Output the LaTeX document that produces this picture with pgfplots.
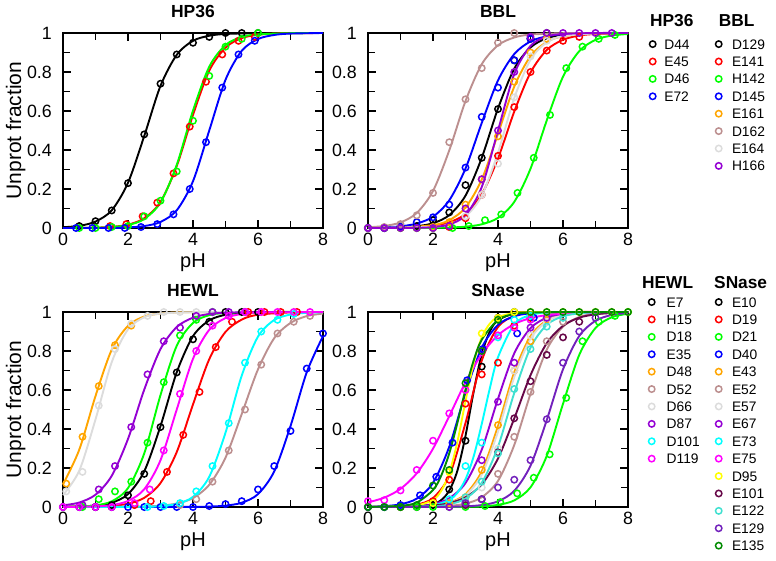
\documentclass[border=0pt]{standalone}
\usepackage{fontspec}
\setmainfont{Liberation Sans}
\usepackage{pgfplots}
\pgfplotsset{compat=1.18}
\definecolor{gBrown}{RGB}{188,143,143}
\definecolor{gGrey}{RGB}{220,220,220}
\definecolor{gViolet}{RGB}{148,0,211}
\definecolor{gOrange}{RGB}{255,165,0}
\definecolor{gIndigo}{RGB}{114,33,188}
\definecolor{gMaroon}{RGB}{103,7,72}
\definecolor{gTurq}{RGB}{64,224,208}
\definecolor{gGreenF}{RGB}{0,139,0}
\definecolor{gGreen}{RGB}{0,255,0}
\definecolor{gBlue}{RGB}{0,0,255}
\definecolor{gRed}{RGB}{255,0,0}
\definecolor{gCyan}{RGB}{0,255,255}
\definecolor{gMagenta}{RGB}{255,0,255}
\definecolor{gYellow}{RGB}{255,255,0}
\tikzset{ltitle/.style={anchor=base west, inner sep=0pt, font=\bfseries\fontsize{17.3bp}{20bp}\selectfont}}
\pgfplotsset{
  panel/.style={
    scale only axis, width=260bp, height=195bp,
    xmin=0, xmax=8, ymin=0, ymax=1,
    xtick={0,2,4,6,8}, minor xtick={1,3,5,7},
    ytick={0,0.2,0.4,0.6,0.8,1}, minor ytick={0.1,0.3,0.5,0.7,0.9},
    tick align=inside, major tick length=8bp, minor tick length=7bp,
    tick style={line width=1.5bp, black},
    axis line style={line width=2bp},
    clip=false,
    /pgf/number format/assume math mode=true,
    tick label style={font=\fontsize{17.8bp}{20bp}\selectfont},
    xticklabel style={anchor=base, yshift=-17.5bp},
    yticklabel style={anchor=east, inner sep=0pt, xshift=-11bp},
    xlabel={pH},
    xlabel style={at={(axis description cs:0.5,-0.205)}, anchor=base, font=\fontsize{20bp}{22bp}\selectfont},
    ylabel style={at={(axis description cs:-0.1615,0.5)}, anchor=base, font=\fontsize{21bp}{23bp}\selectfont},
    title style={at={(axis description cs:0.5,1.0513)}, anchor=base, yshift=0pt, font=\bfseries\fontsize{17.5bp}{20bp}\selectfont},
    legend cell align=left,
    legend style={draw=none, fill=none, inner sep=0pt, outer sep=0pt, anchor=north west, row sep=0pt, column sep=0pt,
      font=\fontsize{13.8bp}{17bp}\selectfont,
      nodes={inner sep=0pt, text height=13.65bp, text depth=3.75bp}},
  },
  limg/.style={legend image code/.code={\path[draw=none,fill=none] (0bp,0bp) -- (#1,0bp);\draw[##1] plot coordinates {(3.6bp,0bp)};}},
  fit/.style={smooth, line width=1.9bp, color=#1, forget plot},
  pts/.style={only marks, mark=o, mark size=3.2bp, mark options={line width=1.5bp, solid}, color=#1},
}
\begin{document}
\begin{tikzpicture}
\useasboundingbox (0bp,-561bp) rectangle (776bp,0bp);
%% ---------------- HP36 ----------------
\begin{axis}[panel, at={(63bp,-228bp)}, anchor=south west, title={HP36}, ylabel={Unprot fraction},
  limg=15.2bp, legend style={at={(axis description cs:2.2542,0.9877)}}]
\addplot[fit=black] coordinates {(0,0.004)(0.5,0.011)(1,0.033)(1.5,0.091)(2,0.232)(2.5,0.472)(3,0.729)(3.5,0.888)(4,0.960)(4.5,0.986)(5,0.995)(6,0.9995)(7,1)(8,1)};
\addplot[pts=black] coordinates {(0.5,0.01)(1,0.035)(1.5,0.09)(2,0.23)(2.5,0.48)(3,0.74)(3.5,0.89)(4,0.95)(4.5,0.98)(5,1)(5.5,1)(6,1)};
\addlegendentry{D44}
\addplot[fit=gRed] coordinates {(0,0)(1,0.002)(1.5,0.006)(2,0.017)(2.5,0.050)(3,0.134)(3.5,0.318)(4,0.580)(4.5,0.807)(5,0.925)(5.5,0.974)(6,0.991)(6.5,0.997)(7,0.999)(8,1)};
\addplot[pts=gRed] coordinates {(1.45,0.01)(1.95,0.02)(2.45,0.06)(2.9,0.13)(3.4,0.28)(3.9,0.52)(4.4,0.75)(4.9,0.89)(5.4,0.96)(5.9,0.98)};
\addlegendentry{E45}
\addplot[fit=gGreen] coordinates {(0,0)(1,0.0015)(1.5,0.005)(2,0.015)(2.5,0.046)(3,0.131)(3.5,0.324)(4,0.602)(4.5,0.827)(5,0.938)(5.5,0.980)(6,0.993)(7,0.999)(8,1)};
\addplot[pts=gGreen] coordinates {(0.5,0)(1,0)(1.5,0.005)(2,0.01)(2.5,0.06)(3,0.14)(3.5,0.29)(4,0.55)(4.5,0.78)(5,0.93)(5.5,0.97)(6,1)};
\addlegendentry{D46}
\addplot[fit=gBlue] coordinates {(0,0)(1.5,0.0003)(2,0.003)(2.5,0.0099)(3,0.031)(3.5,0.091)(4,0.240)(4.5,0.5)(5,0.760)(5.5,0.909)(6,0.969)(6.5,0.990)(7,0.997)(8,1)};
\addplot[pts=gBlue] coordinates {(0.4,0)(0.9,0)(1.4,0)(1.9,0)(2.4,0.005)(2.9,0.02)(3.4,0.07)(3.9,0.2)(4.4,0.44)(4.9,0.72)(5.4,0.89)(5.9,0.96)};
\addlegendentry{E72}
\node[ltitle] at (axis description cs:2.2577,1.0359) {HP36};
\end{axis}
%% ---------------- BBL ----------------
\begin{axis}[panel, at={(368bp,-228bp)}, anchor=south west, title={BBL},
  limg=16.9bp, legend style={at={(axis description cs:1.335,0.9877)}}]
\addplot[fit=black] coordinates {(0,0.0004)(1,0.003)(1.5,0.009)(2,0.0245)(2.5,0.066)(3,0.166)(3.5,0.360)(4,0.613)(4.5,0.817)(5,0.926)(5.5,0.973)(6,0.990)(7,0.999)(8,1)};
\addplot[pts=black] coordinates {(0,0)(0.5,0)(1,0.005)(1.5,0.01)(2,0.04)(2.5,0.08)(3,0.22)(3.5,0.36)(4,0.61)(4.5,0.86)(5,0.97)(5.5,1)};
\addlegendentry{D129}
\addplot[fit=gRed] coordinates {(0,0)(1,0.0016)(2,0.011)(2.5,0.029)(3,0.072)(3.5,0.173)(4,0.357)(4.5,0.597)(5,0.797)(5.5,0.913)(6,0.965)(6.5,0.987)(7,0.995)(8,0.999)};
\addplot[pts=gRed] coordinates {(0,0)(0.5,0)(1,0)(1.5,0)(2,0)(2.5,0.005)(3,0.05)(3.5,0.17)(4,0.37)(4.5,0.62)(5,0.80)(5.5,0.91)(6,0.96)(6.5,0.98)};
\addlegendentry{E141}
\addplot[fit=gGreen] coordinates {(0,0)(2,0.0009)(2.5,0.0025)(3,0.007)(3.5,0.019)(4,0.052)(4.5,0.134)(5,0.304)(5.5,0.552)(6,0.776)(6.5,0.907)(7,0.965)(7.5,0.987)(8,0.995)};
\addplot[pts=gGreen] coordinates {(0,0)(0.5,0)(1,0)(1.5,0)(2,0)(2.6,0)(3.1,0.01)(3.6,0.04)(4.1,0.07)(4.6,0.18)(5.1,0.36)(5.6,0.58)(6.1,0.82)(6.6,0.93)(7.1,0.97)(7.6,0.99)};
\addlegendentry{H142}
\addplot[fit=gBlue] coordinates {(0,0.0012)(0.5,0.0033)(1,0.0087)(1.5,0.0228)(2,0.058)(2.5,0.142)(3,0.305)(3.5,0.539)(4,0.757)(4.5,0.892)(5,0.957)(5.5,0.983)(6,0.994)(7,0.999)(8,1)};
\addplot[pts=gBlue] coordinates {(0,0)(0.5,0)(1,0.005)(1.5,0.03)(2,0.055)(2.5,0.12)(3,0.31)(3.5,0.57)(4,0.72)(4.5,0.86)(5,0.97)};
\addlegendentry{D145}
\addplot[fit=gOrange] coordinates {(0,0)(1,0.002)(2,0.015)(2.5,0.040)(3,0.105)(3.5,0.249)(4,0.483)(4.5,0.725)(5,0.881)(5.5,0.954)(6,0.983)(7,0.998)(8,1)};
\addplot[pts=gOrange] coordinates {(2,0.005)(2.5,0.03)(3,0.12)(3.5,0.25)(4,0.47)(4.5,0.75)(5,0.9)(5.5,0.97)};
\addlegendentry{E161}
\addplot[fit=gBrown] coordinates {(0,0.0037)(0.5,0.0104)(1,0.0287)(1.5,0.077)(2,0.190)(2.5,0.398)(3,0.651)(3.5,0.840)(4,0.937)(4.5,0.977)(5,0.992)(6,0.999)(7,1)(8,1)};
\addplot[pts=gBrown] coordinates {(0,0)(0.5,0.005)(1,0.02)(1.5,0.065)(2,0.18)(2.5,0.44)(3,0.66)(3.5,0.82)(4,0.95)(4.5,1)};
\addlegendentry{D162}
\addplot[fit=gGrey] coordinates {(0,0)(2,0.006)(2.5,0.020)(3,0.059)(3.5,0.166)(4,0.387)(4.5,0.666)(5,0.863)(5.5,0.952)(6,0.984)(7,0.998)(8,1)};
\addplot[pts=gGrey] coordinates {(3,0.06)(3.5,0.17)(4,0.33)(4.5,0.67)(5,0.88)(5.5,0.96)};
\addlegendentry{E164}
\addplot[fit=gViolet] coordinates {(0,0)(1.5,0.001)(2,0.005)(2.5,0.018)(3,0.066)(3.5,0.210)(4,0.5)(4.5,0.790)(5,0.934)(5.5,0.982)(6,0.995)(7,1)(8,1)};
\addplot[pts=gViolet] coordinates {(0,0)(0.5,0)(1,0)(1.5,0)(2,0)(2.5,0.01)(3,0.1)(3.5,0.25)(4,0.5)(4.5,0.8)(5,0.98)(5.5,1)(6,1)(6.5,1)(7,1)(7.5,1)};
\addlegendentry{H166}
\node[ltitle] at (axis description cs:1.3488,1.0359) {BBL};
\end{axis}
%% ---------------- HEWL ----------------
\begin{axis}[panel, at={(63bp,-507bp)}, anchor=south west, title={HEWL}, ylabel={Unprot fraction},
  limg=18.6bp, legend style={at={(axis description cs:2.2504,1.0956)}}]
\addplot[fit=black] coordinates {(0,0.0007)(1,0.007)(1.5,0.022)(2,0.066)(2.5,0.183)(3,0.415)(3.5,0.691)(4,0.876)(4.5,0.957)(5,0.986)(5.5,0.996)(6.5,1)(8,1)};
\addplot[pts=black] coordinates {(1,0)(1.5,0.01)(2,0.06)(2.5,0.17)(3,0.41)(3.5,0.69)(4,0.86)(4.5,0.95)(5,1)(5.5,1)(6,1)};
\addlegendentry{E7}
\addplot[fit=gRed] coordinates {(0,0.0003)(1,0.002)(1.5,0.006)(2,0.017)(2.5,0.047)(3,0.123)(3.5,0.282)(4,0.526)(4.5,0.758)(5,0.898)(5.5,0.961)(6,0.986)(7,0.998)(8,1)};
\addplot[pts=gRed] coordinates {(0,0)(0.5,0)(1,0)(1.5,0)(2.2,0.01)(2.7,0.03)(3.2,0.18)(3.7,0.37)(4.2,0.59)(4.7,0.82)(5.2,0.95)(5.7,1)(6.2,1)(6.7,1)(7.2,1)};
\addlegendentry{H15}
\addplot[fit=gGreen] coordinates {(0,0.0007)(0.5,0.0024)(1,0.0084)(1.5,0.029)(2,0.097)(2.5,0.275)(3,0.574)(3.5,0.827)(4,0.944)(4.5,0.984)(5,0.995)(6,1)(8,1)};
\addplot[pts=gGreen] coordinates {(0.6,0)(1.1,0.04)(1.6,0.08)(2.1,0.13)(2.6,0.33)(3.1,0.64)(3.6,0.88)(4.1,0.96)(4.6,1)};
\addlegendentry{D18}
\addplot[fit=gBlue] coordinates {(0,0)(3,0.0001)(4,0.0007)(4.5,0.0022)(5,0.007)(5.5,0.022)(6,0.066)(6.5,0.183)(7,0.415)(7.5,0.691)(8,0.876)};
\addplot[pts=gBlue] coordinates {(0,0)(0.5,0)(1,0)(1.5,0)(2,0)(2.5,0)(3,0)(3.5,0)(4,0)(4.5,0.005)(5,0.015)(5.5,0.03)(6,0.09)(6.5,0.21)(7,0.39)(7.5,0.71)(8,0.89)};
\addlegendentry{E35}
\addplot[fit=gOrange] coordinates {(0,0.116)(0.5,0.294)(1,0.569)(1.5,0.807)(2,0.929)(2.5,0.977)(3,0.992)(3.5,0.998)(4,0.999)(5,1)(8,1)};
\addplot[pts=gOrange] coordinates {(0.1,0.12)(0.6,0.36)(1.1,0.62)(1.6,0.83)(2.1,0.93)};
\addlegendentry{D48}
\addplot[fit=gBrown] coordinates {(0,0)(2,0.001)(2.5,0.0026)(3,0.0067)(3.5,0.018)(4,0.046)(4.5,0.114)(5,0.253)(5.5,0.477)(6,0.706)(6.5,0.866)(7,0.944)(7.5,0.979)(8,0.992)};
\addplot[pts=gBrown] coordinates {(3.6,0.01)(4.1,0.04)(4.6,0.13)(5.1,0.29)(5.6,0.5)(6.1,0.73)(6.6,0.89)(7.1,0.95)(7.6,0.98)};
\addlegendentry{D52}
\addplot[fit=gGrey] coordinates {(0,0.061)(0.5,0.186)(1,0.449)(1.5,0.743)(2,0.911)(2.5,0.973)(3,0.992)(4,0.999)(5,1)(8,1)};
\addplot[pts=gGrey] coordinates {(0.1,0.08)(0.6,0.18)(1.1,0.52)(1.6,0.81)(2.1,0.94)(2.6,0.98)(3.1,1)(3.6,1)(4.1,1)};
\addlegendentry{D66}
\addplot[fit=gViolet] coordinates {(0,0.0084)(0.5,0.023)(1,0.063)(1.5,0.160)(2,0.349)(2.5,0.602)(3,0.810)(3.5,0.923)(4,0.971)(4.5,0.990)(5,0.996)(6,1)(8,1)};
\addplot[pts=gViolet] coordinates {(0.6,0.01)(1.1,0.09)(1.6,0.21)(2.1,0.41)(2.6,0.68)(3.1,0.85)(3.6,0.92)(4.1,0.98)(4.6,1)(5.1,1)(5.6,1)};
\addlegendentry{D87}
\addplot[fit=gCyan] coordinates {(0,0)(2.5,0.0015)(3,0.005)(3.5,0.016)(4,0.052)(4.5,0.155)(5,0.381)(5.5,0.674)(6,0.874)(6.5,0.959)(7,0.987)(7.5,0.996)(8,0.999)};
\addplot[pts=gCyan] coordinates {(2.6,0)(3.1,0.005)(3.6,0.02)(4.1,0.08)(4.6,0.21)(5.1,0.43)(5.6,0.74)(6.1,0.90)(6.6,0.96)(7.1,0.99)};
\addlegendentry{D101}
\addplot[fit=gMagenta] coordinates {(0,0)(1,0.003)(1.5,0.0099)(2,0.031)(2.5,0.091)(3,0.240)(3.5,0.5)(4,0.760)(4.5,0.909)(5,0.969)(5.5,0.990)(6,0.997)(8,1)};
\addplot[pts=gMagenta] coordinates {(0,0)(0.5,0)(1,0)(1.5,0)(2.2,0.02)(2.67,0.09)(3.1,0.29)(3.6,0.58)(4.1,0.80)(4.6,0.93)(5.1,0.98)(5.6,1)(6.1,1)(6.6,1)(7.1,1)(7.6,1)};
\addlegendentry{D119}
\node[ltitle] at (axis description cs:2.2269,1.118) {HEWL};
\end{axis}
%% ---------------- SNase ----------------
\begin{axis}[panel, at={(368bp,-507bp)}, anchor=south west, title={SNase},
  limg=16.9bp, legend style={at={(axis description cs:1.335,1.0956)}}]
\addplot[fit=black] coordinates {(0,0)(1.5,0.002)(2,0.014)(2.25,0.035)(2.5,0.084)(2.75,0.186)(3,0.365)(3.25,0.591)(3.5,0.784)(3.75,0.901)(4,0.958)(4.5,0.993)(5,0.999)(8,1)};
\addplot[pts=black] coordinates {(0,0)(0.5,0)(1,0)(1.5,0)(2,0.01)(2.5,0.09)(3,0.34)(3.5,0.72)(4,0.97)(4.5,1)};
\addlegendentry{E10}
\addplot[fit=gRed] coordinates {(0,0)(1,0.003)(1.5,0.012)(2,0.046)(2.5,0.160)(3,0.431)(3.5,0.751)(4,0.923)(4.5,0.980)(5,0.995)(6,1)(8,1)};
\addplot[pts=gRed] coordinates {(0,0)(1,0)(2,0.03)(2.5,0.14)(3,0.53)(3.5,0.68)(4,0.74)(4.5,0.93)(5,0.97)};
\addlegendentry{D19}
\addplot[fit=gGreen] coordinates {(0,0)(3,0.001)(3.5,0.0035)(4,0.011)(4.5,0.034)(5,0.101)(5.5,0.262)(6,0.529)(6.5,0.780)(7,0.918)(7.5,0.973)(8,0.991)};
\addplot[pts=gGreen] coordinates {(0,0)(0.5,0)(1,0)(1.5,0)(2,0)(2.5,0)(3,0)(3.6,0.005)(4.07,0.025)(4.59,0.07)(5.1,0.15)(5.59,0.27)(6.1,0.56)(6.6,0.85)(7.1,0.95)(7.6,0.98)(8,1)};
\addlegendentry{D21}
\addplot[fit=gBlue] coordinates {(0,0.0014)(0.5,0.0045)(1,0.014)(1.5,0.043)(2,0.124)(2.5,0.309)(3,0.585)(3.5,0.817)(4,0.934)(4.5,0.978)(5,0.993)(6,0.999)(8,1)};
\addplot[pts=gBlue] coordinates {(0,0)(0.5,0)(1,0.01)(1.6,0.06)(2.1,0.155)(2.6,0.33)(3.05,0.65)(3.53,0.81)(4.59,0.89)(5.1,0.97)};
\addlegendentry{D40}
\addplot[fit=gOrange] coordinates {(0,0)(2,0.007)(2.5,0.022)(3,0.066)(3.5,0.183)(4,0.415)(4.5,0.691)(5,0.876)(5.5,0.957)(6,0.986)(6.5,0.996)(8,1)};
\addplot[pts=gOrange] coordinates {(2.5,0.02)(3,0.05)(3.5,0.19)(4,0.42)(4.5,0.7)(5,0.85)(5.5,0.96)};
\addlegendentry{E43}
\addplot[fit=gBrown] coordinates {(0,0)(2,0.002)(2.5,0.006)(3,0.017)(3.5,0.050)(4,0.134)(4.5,0.318)(5,0.580)(5.5,0.807)(6,0.925)(6.5,0.974)(7,0.991)(8,0.999)};
\addplot[pts=gBrown] coordinates {(3.5,0.04)(4,0.17)(4.5,0.36)(5,0.59)(5.5,0.85)(6,0.95)};
\addlegendentry{E52}
\addplot[fit=gGrey] coordinates {(0,0)(2,0.006)(2.5,0.020)(3,0.059)(3.5,0.166)(4,0.387)(4.5,0.666)(5,0.863)(5.5,0.952)(6,0.984)(7,0.998)(8,1)};
\addplot[pts=gGrey] coordinates {(3.5,0.1)(4,0.3)(4.5,0.7)(5,0.88)(5.5,0.95)};
\addlegendentry{E57}
\addplot[fit=gViolet] coordinates {(0,0)(1,0.002)(1.5,0.005)(2,0.015)(2.5,0.045)(3,0.123)(3.5,0.294)(4,0.555)(4.5,0.788)(5,0.917)(5.5,0.971)(6,0.990)(7,0.999)(8,1)};
\addplot[pts=gViolet] coordinates {(2.5,0)(3,0.02)(3.5,0.24)(4,0.54)(4.5,0.74)(5,0.92)(5.5,0.97)};
\addlegendentry{E67}
\addplot[fit=gCyan] coordinates {(0,0)(1.5,0.002)(2,0.008)(2.5,0.036)(2.75,0.073)(3,0.142)(3.25,0.259)(3.5,0.426)(3.75,0.610)(4,0.768)(4.5,0.937)(5,0.985)(5.5,0.997)(6,1)(8,1)};
\addplot[pts=gCyan] coordinates {(2.5,0.04)(3,0.21)(3.5,0.33)(4,0.87)(4.5,0.96)(5,0.98)};
\addlegendentry{E73}
\addplot[fit=gMagenta] coordinates {(0,0.024)(0.5,0.048)(1,0.093)(1.5,0.173)(2,0.299)(2.5,0.466)(3,0.640)(3.5,0.784)(4,0.881)(4.5,0.938)(5,0.969)(5.5,0.984)(6,0.992)(7,0.998)(8,1)};
\addplot[pts=gMagenta] coordinates {(0,0.03)(0.5,0.035)(1,0.085)(1.5,0.19)(2,0.34)(2.5,0.48)(3,0.6)(3.5,0.8)(4,0.88)(4.5,0.92)(5,0.96)};
\addlegendentry{E75}
\addplot[fit=gYellow] coordinates {(0,0)(1,0.001)(1.5,0.007)(2,0.036)(2.25,0.082)(2.5,0.174)(2.75,0.334)(3,0.543)(3.25,0.738)(3.5,0.870)(3.75,0.941)(4,0.974)(4.5,0.995)(5,0.999)(8,1)};
\addplot[pts=gYellow] coordinates {(2,0.02)(2.5,0.18)(3.5,0.89)(4,0.97)(4.5,1)(5,1)(5.5,1)(6,1)(6.5,1)(7,1)(7.5,1)(8,1)};
\addlegendentry{D95}
\addplot[fit=gMaroon] coordinates {(0,0)(1,0.001)(2,0.008)(2.5,0.020)(3,0.050)(3.5,0.116)(4,0.249)(4.5,0.454)(5,0.676)(5.5,0.840)(6,0.929)(6.5,0.971)(7,0.988)(7.5,0.995)(8,0.998)};
\addplot[pts=gMaroon] coordinates {(3,0.01)(3.5,0.04)(4,0.28)(4.5,0.455)(5,0.645)(5.5,0.78)(6,0.87)(6.5,0.95)};
\addlegendentry{E101}
\addplot[fit=gTurq] coordinates {(0,0)(2,0.004)(2.5,0.014)(3,0.043)(3.5,0.124)(4,0.309)(4.5,0.585)(5,0.817)(5.5,0.934)(6,0.978)(6.5,0.993)(7,0.998)(8,1)};
\addplot[pts=gTurq] coordinates {(3,0.05)(3.5,0.13)(4,0.275)(4.5,0.605)(5,0.81)(5.5,0.925)(6,0.97)};
\addlegendentry{E122}
\addplot[fit=gIndigo] coordinates {(0,0)(2,0.0004)(2.5,0.001)(3,0.0034)(3.5,0.010)(4,0.029)(4.5,0.083)(5,0.212)(5.5,0.446)(6,0.706)(6.5,0.877)(7,0.955)(7.5,0.985)(8,0.995)};
\addplot[pts=gIndigo] coordinates {(3,0.02)(3.5,0.04)(4,0.10)(4.5,0.14)(5,0.24)(5.5,0.45)(6,0.74)(6.5,0.9)(7,0.97)};
\addlegendentry{E129}
\addplot[fit=gGreenF] coordinates {(0,0.0004)(1,0.006)(1.5,0.023)(2,0.087)(2.25,0.160)(2.5,0.275)(2.75,0.431)(3,0.602)(3.25,0.751)(3.5,0.858)(4,0.960)(4.5,0.990)(5,0.997)(6,1)(8,1)};
\addplot[pts=gGreenF] coordinates {(0,0)(0.5,0)(1,0)(1.5,0.01)(2,0.11)(2.5,0.19)(3,0.635)(3.5,0.80)(4,0.96)(5,1)(5.5,1)(6,1)(6.5,1)(7,1)(7.5,1)(8,1)};
\addlegendentry{E135}
\node[ltitle] at (axis description cs:1.3308,1.118) {SNase};
\end{axis}
\end{tikzpicture}
\end{document}
